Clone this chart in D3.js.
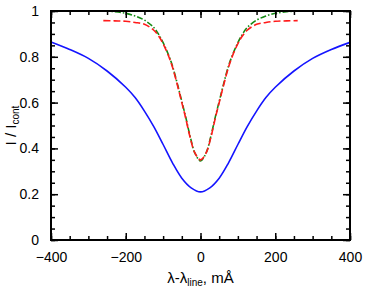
<!DOCTYPE html>
<html>
<head>
<meta charset="utf-8">
<script src="https://cdn.jsdelivr.net/npm/d3@7"></script>
<style>
  body { margin: 0; background: #fff; }
  text { font-family: "Liberation Sans", Arial, sans-serif; fill: #000; }
</style>
</head>
<body>
<div id="chart"></div>
<script>
const width = 366;
const height = 293;
const margin = { top: 11, right: 16, bottom: 53, left: 51 };

// broad profile (solid blue)
const blueX = [-400, -350, -300, -250, -200, -175, -150, -125, -100, -75, -50, -25, 0,
  25, 50, 75, 100, 125, 150, 175, 200, 250, 300, 350, 400];
const blueY = [0.865, 0.832, 0.793, 0.738, 0.667, 0.622, 0.563, 0.495, 0.417, 0.337, 0.27, 0.228, 0.21,
  0.228, 0.27, 0.337, 0.417, 0.495, 0.563, 0.622, 0.667, 0.738, 0.793, 0.832, 0.863];

// narrow profiles
const coreX = [-260, -230, -200, -175, -150, -125, -112, -100, -86, -75, -60, -50, -40, -28, -15, 0,
  15, 28, 40, 50, 60, 75, 86, 100, 112, 125, 150, 175, 200, 230, 260];
const greenY = [1.0, 0.997, 0.99, 0.978, 0.96, 0.928, 0.898, 0.862, 0.81, 0.76, 0.67, 0.605, 0.54, 0.455, 0.38, 0.345,
  0.38, 0.455, 0.54, 0.605, 0.67, 0.76, 0.81, 0.862, 0.898, 0.928, 0.96, 0.978, 0.99, 0.997, 1.0];
const redY = [0.958, 0.957, 0.955, 0.95, 0.942, 0.916, 0.891, 0.857, 0.806, 0.755, 0.665, 0.6, 0.535, 0.45, 0.38, 0.35,
  0.38, 0.45, 0.535, 0.6, 0.665, 0.755, 0.806, 0.857, 0.891, 0.916, 0.942, 0.95, 0.955, 0.957, 0.958];

const xTicks = [-400, -200, 0, 200, 400];
const yTicks = [0, 0.2, 0.4, 0.6, 0.8, 1];

const svg = d3.select("#chart").append("svg").attr("width", width).attr("height", height);

const x = d3.scaleLinear().domain([-400, 400]).range([margin.left, width - margin.right]);
const y = d3.scaleLinear().domain([0, 1]).range([height - margin.bottom, margin.top]);

const line = d3.line().curve(d3.curveCatmullRom.alpha(0.5)).x((d) => x(d[0])).y((d) => y(d[1]));

svg.append("path")
  .datum(d3.zip(blueX, blueY))
  .attr("d", line)
  .attr("fill", "none")
  .attr("stroke", "#1414ff")
  .attr("stroke-width", 1.6);

svg.append("path")
  .datum(d3.zip(coreX, greenY))
  .attr("d", line)
  .attr("fill", "none")
  .attr("stroke", "#138a13")
  .attr("stroke-width", 1.6)
  .attr("stroke-dasharray", "6,2,1.5,2");

svg.append("path")
  .datum(d3.zip(coreX, redY))
  .attr("d", line)
  .attr("fill", "none")
  .attr("stroke", "#ff1a1a")
  .attr("stroke-width", 1.6)
  .attr("stroke-dasharray", "7,3");

// axes with inward ticks on all four sides
const x0 = margin.left, x1 = width - margin.right;
const y0 = height - margin.bottom, y1 = margin.top;
const minorX = d3.range(-400, 401, 50);
const minorY = d3.range(0, 1.001, 0.05);

svg.append("g").attr("transform", `translate(0,${y0})`)
  .call(d3.axisBottom(x).tickValues(minorX).tickSize(-4).tickFormat(""));
svg.append("g").attr("transform", `translate(0,${y0})`)
  .call(d3.axisBottom(x).tickValues(xTicks).tickSize(-7).tickPadding(12)
    .tickFormat((d) => d < 0 ? "\u2212" + Math.abs(d) : d));
svg.append("g").attr("transform", `translate(0,${y1})`)
  .call(d3.axisTop(x).tickValues(minorX).tickSize(-4).tickFormat(""));
svg.append("g").attr("transform", `translate(0,${y1})`)
  .call(d3.axisTop(x).tickValues(xTicks).tickSize(-7).tickFormat(""));
svg.append("g").attr("transform", `translate(${x0},0)`)
  .call(d3.axisLeft(y).tickValues(minorY).tickSize(-4).tickFormat(""));
svg.append("g").attr("transform", `translate(${x0},0)`)
  .call(d3.axisLeft(y).tickValues(yTicks).tickSize(-7).tickPadding(12)
    .tickFormat((d) => d === 0 || d === 1 ? d : d.toFixed(1)));
svg.append("g").attr("transform", `translate(${x1},0)`)
  .call(d3.axisRight(y).tickValues(minorY).tickSize(-4).tickFormat(""));
svg.append("g").attr("transform", `translate(${x1},0)`)
  .call(d3.axisRight(y).tickValues(yTicks).tickSize(-7).tickFormat(""));

svg.selectAll(".domain").remove();
svg.selectAll(".tick line").attr("stroke", "#000").attr("stroke-width", 1.5);
svg.selectAll(".tick text").attr("font-size", 14).attr("fill", "#000");

svg.append("rect")
  .attr("x", x0).attr("y", y1)
  .attr("width", x1 - x0).attr("height", y0 - y1)
  .attr("fill", "none").attr("stroke", "#000").attr("stroke-width", 2);

// axis titles
const xt = svg.append("text")
  .attr("x", (x0 + x1) / 2).attr("y", 283)
  .attr("text-anchor", "middle").attr("font-size", 15);
xt.append("tspan").text("\u03bb-\u03bb");
xt.append("tspan").attr("font-size", 10).attr("dy", 3).text("line");
xt.append("tspan").attr("dy", -3).text(", m\u00c5");

const yt = svg.append("text")
  .attr("transform", `translate(16,${(y0 + y1) / 2}) rotate(-90)`)
  .attr("text-anchor", "middle").attr("font-size", 15);
yt.append("tspan").text("I / I");
yt.append("tspan").attr("font-size", 10).attr("dy", 3).text("cont");
</script>
</body>
</html>
